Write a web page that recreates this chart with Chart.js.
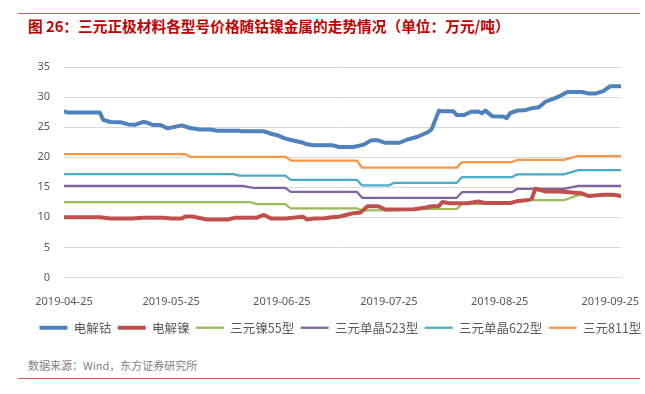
<!DOCTYPE html>
<html lang="zh-CN">
<head>
  <meta charset="utf-8">
  <title>三元正极材料各型号价格随钴镍金属的走势情况</title>
  <script src="https://cdn.jsdelivr.net/npm/chart.js@4.4.1/dist/chart.umd.min.js"></script>
  <style>
    html, body { margin: 0; padding: 0; background: #fff; overflow: hidden; }
    .page { position: relative; width: 645px; height: 394px; overflow: hidden; }
    .rule { position: absolute; left: 18px; width: 622px; height: 1px; background: #e05a5a; }
    .title { position: absolute; left: 28px; top: 17px; font: bold 14.7px/18px "Noto Sans CJK SC", sans-serif; color: #c00000; white-space: nowrap; }
    .source { position: absolute; left: 28px; top: 358px; font: 11px/14px "Noto Sans CJK SC", sans-serif; color: #7f7f7f; white-space: nowrap; }
    #chart { position: absolute; left: 0; top: 40px; }
  </style>
</head>
<body>
  <div class="page">
    <div class="rule" style="top:13px"></div>
    <div class="title">图 26：三元正极材料各型号价格随钴镍金属的走势情况（单位：万元/吨）</div>
    <canvas id="chart" width="660" height="304"></canvas>
    <div class="source">数据来源：Wind，东方证券研究所</div>
    <div class="rule" style="top:378px"></div>
  </div>

  <script>
    // x values are calendar days counted from 2019-04-25
    const tickDays = [0, 30, 61, 91, 122, 153];
    const tickLabels = ['2019-04-25', '2019-05-25', '2019-06-25', '2019-07-25', '2019-08-25', '2019-09-25'];

    const seriesNames = ['电解钴', '电解镍', '三元镍55型', '三元单晶523型', '三元单晶622型', '三元811型'];

    const cobaltDays = [0, 1, 10, 11, 13, 16, 18, 20, 22, 23, 25, 27, 29, 33, 35, 38, 41, 43, 49, 50, 56, 58, 60, 62, 63, 67, 68, 70, 75, 77, 81, 84, 86, 88, 90, 94, 96, 99, 102, 103, 105, 106, 109, 110, 112, 114, 116, 117, 118, 120, 123, 124, 125, 127, 129, 131, 133, 135, 137, 139, 141, 145, 147, 149, 151, 153, 156];
    const cobaltVals = [27.6, 27.45, 27.45, 26.2, 25.85, 25.8, 25.45, 25.4, 25.85, 25.8, 25.35, 25.35, 24.8, 25.3, 24.9, 24.6, 24.6, 24.4, 24.4, 24.3, 24.3, 23.9, 23.6, 23.1, 22.95, 22.4, 22.15, 22.0, 22.0, 21.7, 21.7, 22.1, 22.8, 22.8, 22.4, 22.4, 22.9, 23.4, 24.2, 24.7, 27.75, 27.65, 27.65, 27.0, 27.0, 27.55, 27.6, 27.3, 27.75, 26.8, 26.75, 26.5, 27.35, 27.75, 27.8, 28.15, 28.3, 29.3, 29.7, 30.2, 30.85, 30.85, 30.6, 30.6, 31.0, 31.8, 31.8];

    const nickelDays = [0, 10, 13, 19, 22, 28, 30, 33, 34, 36, 38, 40, 46, 48, 54, 56, 58, 62, 64, 67, 68, 70, 73, 75, 77, 79, 81, 83, 85, 88, 90, 92, 98, 101, 103, 105, 106, 108, 113, 116, 118, 125, 127, 130, 131, 132, 135, 138, 140, 143, 145, 147, 151, 154, 156];
    const nickelVals = [10.0, 10.0, 9.8, 9.8, 9.95, 9.95, 9.8, 9.8, 10.15, 10.15, 9.9, 9.65, 9.65, 9.95, 9.95, 10.4, 9.8, 9.8, 9.95, 10.1, 9.65, 9.8, 9.85, 10.0, 10.1, 10.4, 10.7, 10.8, 11.85, 11.85, 11.3, 11.3, 11.35, 11.6, 11.85, 11.9, 12.55, 12.35, 12.35, 12.65, 12.4, 12.4, 12.7, 12.9, 13.1, 14.75, 14.3, 14.3, 14.25, 14.1, 14.0, 13.55, 13.75, 13.75, 13.55];

    const ncm55Days = [0, 52, 54, 62, 63.5, 82, 83.5, 92, 94, 110, 111.5, 125.5, 127, 140, 144, 156];
    const ncm55Vals = [12.55, 12.55, 12.2, 12.2, 11.5, 11.5, 11.15, 11.2, 11.35, 11.4, 12.25, 12.25, 12.85, 12.85, 13.7, 13.7];

    const ncm523Days = [0, 50, 53, 62, 63.5, 82, 83.5, 110, 111.5, 125.5, 127, 140, 144, 156];
    const ncm523Vals = [15.25, 15.25, 14.9, 14.9, 14.25, 14.25, 13.25, 13.25, 14.2, 14.2, 14.75, 14.75, 15.25, 15.25];

    const ncm622Days = [0, 47.5, 49, 62, 63.5, 82, 83.5, 91, 92.5, 110, 111.5, 125.5, 127, 140, 144, 156];
    const ncm622Vals = [17.2, 17.2, 16.95, 16.95, 16.25, 16.25, 15.3, 15.3, 15.75, 15.75, 16.7, 16.7, 17.15, 17.15, 17.85, 17.85];

    const ncm811Days = [0, 34, 35.5, 62, 63.5, 82, 83.5, 110, 111.5, 125.5, 127, 140, 144, 156];
    const ncm811Vals = [20.5, 20.5, 20.05, 20.05, 19.45, 19.45, 18.25, 18.25, 19.2, 19.2, 19.55, 19.55, 20.2, 20.2];

    const colors = ['#4f81bd', '#c0504d', '#9bbb59', '#8064a2', '#4bacc6', '#f79646'];
    const widths = [4, 4, 2.25, 2.25, 2.25, 2.25];

    function toPoints(days, vals) {
      return days.map((d, i) => ({ x: d, y: vals[i] }));
    }

    const allSeries = [
      toPoints(cobaltDays, cobaltVals),
      toPoints(nickelDays, nickelVals),
      toPoints(ncm55Days, ncm55Vals),
      toPoints(ncm523Days, ncm523Vals),
      toPoints(ncm622Days, ncm622Vals),
      toPoints(ncm811Days, ncm811Vals)
    ];

    const datasets = allSeries.map((pts, i) => ({
      label: seriesNames[i],
      data: pts,
      borderColor: colors[i],
      backgroundColor: colors[i],
      borderWidth: widths[i],
      borderCapStyle: 'round',
      borderJoinStyle: 'round',
      pointRadius: 0,
      tension: 0,
      fill: false
    }));

    const axisFont = { family: 'Noto Sans', size: 11 };

    let chart = new Chart('chart', {
      type: 'line',
      data: { datasets: datasets },
      options: {
        responsive: false,
        animation: false,
        layout: { padding: { left: 33, top: 27, right: 0, bottom: 0 } },
        plugins: {
          legend: {
            position: 'bottom',
            align: 'start',
            labels: {
              usePointStyle: true,
              pointStyle: 'line',
              pointStyleWidth: 28,
              padding: 6.5,
              color: '#595959',
              font: { family: 'Noto Sans CJK SC', size: 12.5 }
            }
          },
          tooltip: { enabled: false }
        },
        scales: {
          x: {
            type: 'linear',
            min: 0,
            max: 156,
            grid: { display: false },
            border: { display: false },
            afterBuildTicks: function(scale) {
              scale.ticks = tickDays.map(v => ({ value: v }));
            },
            ticks: {
              autoSkip: false,
              maxRotation: 0,
              padding: 10,
              color: '#595959',
              font: axisFont,
              callback: function(value, index) {
                return tickLabels[index];
              }
            },
            afterFit: function(scale) {
              scale.height = 37.5;
              scale.paddingLeft = 0;
              scale.paddingRight = 39;
            }
          },
          y: {
            min: 0,
            max: 35,
            ticks: { stepSize: 5, padding: 14, color: '#595959', font: axisFont },
            grid: { color: '#d9d9d9', drawTicks: false },
            border: { display: false },
            afterFit: function(scale) {
              scale.width = 31;
            }
          }
        }
      }
    });
  </script>
</body>
</html>
